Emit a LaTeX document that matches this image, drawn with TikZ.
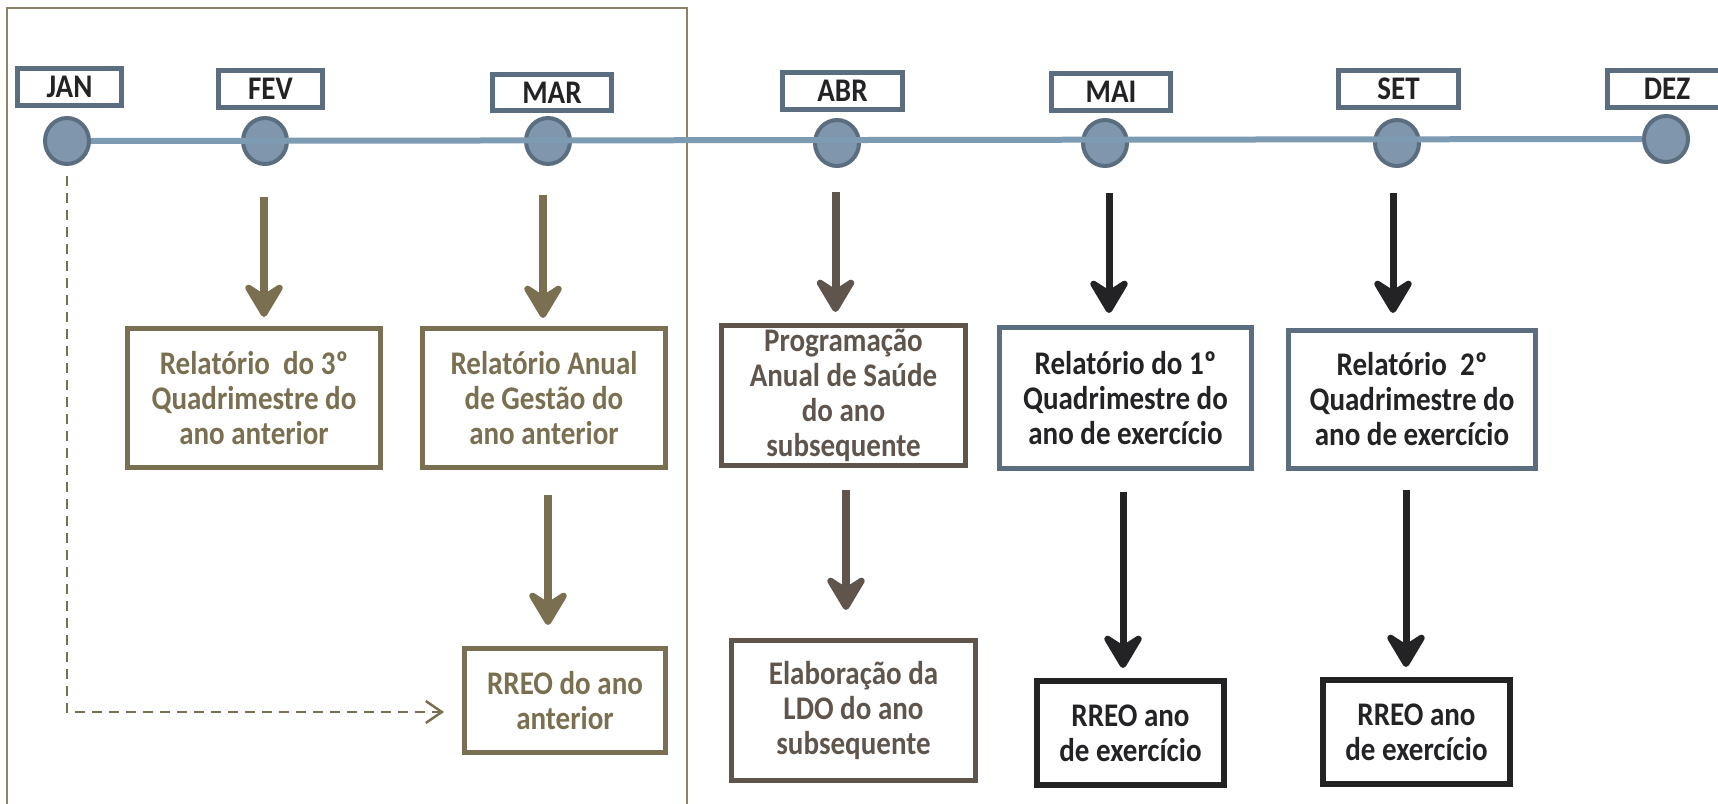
\documentclass[tikz,border=0pt]{standalone}
\usepackage{fontspec}
\setmainfont{Carlito}[FakeStretch=0.88]
\usetikzlibrary{arrows.meta,shapes.geometric}
\definecolor{olive}{HTML}{7A6F50}
\definecolor{taupe}{HTML}{5F554D}
\definecolor{steel}{HTML}{5A6E80}
\definecolor{dotfill}{HTML}{7F96AC}
\definecolor{tline}{HTML}{7D9BB2}
\definecolor{ink}{HTML}{232326}
\definecolor{framec}{HTML}{8C8464}
\tikzset{
  txt/.style={font=\bfseries\fontsize{16.5}{17.5}\selectfont, align=center, inner sep=0pt},
  month/.style={draw=steel, line width=2.2pt, fill=white, txt, text=ink, minimum height=18.5pt},
  dot/.style={ellipse, draw=steel, fill=dotfill, line width=2pt, minimum width=22pt, minimum height=23pt, inner sep=0pt},
  obox/.style={rectangle, draw=olive, line width=2.5pt, txt, text=olive},
  tbox/.style={rectangle, draw=taupe, line width=2.5pt, txt, text=taupe},
  sbox/.style={rectangle, draw=steel, line width=2.5pt, txt, text=ink},
  kbox/.style={rectangle, draw=ink, line width=3pt, txt, text=ink},
  headtip/.tip={Stealth[length=21pt,width=25pt,inset=8pt,round]},
  oarr/.style={draw=olive, line width=4pt, -headtip},
  tarr/.style={draw=taupe, line width=4pt, -headtip},
  karr/.style={draw=ink, line width=3.5pt, -headtip},
}
\begin{document}
\begin{tikzpicture}[x=0.5pt,y=-0.5pt]
\useasboundingbox (0,0) rectangle (1718,803);
% frame
\draw[framec, line width=0.8pt] (7,820) -- (7,8) -- (687,8) -- (687,820);
% month labels
\node[month, minimum width=52pt] (mjan) at (69.5,87) {JAN};
\node[month, minimum width=52pt] (mfev) at (270.5,89) {FEV};
\node[month, minimum width=59.5pt, minimum height=18pt] (mmar) at (552,92.5) {MAR};
\node[month, minimum width=60pt] (mabr) at (842.5,91) {ABR};
\node[month, minimum width=59.5pt] (mmai) at (1111,92) {MAI};
\node[month, minimum width=60pt] (mset) at (1398.5,89) {SET};
\node[month, minimum width=59.5pt] (mdez) at (1667,89) {DEZ};
% dots
\node[dot] (cjan) at (67,141) {};
\node[dot] (cfev) at (265,141) {};
\node[dot] (cmar) at (548,141) {};
\node[dot] (cabr) at (837,143) {};
\node[dot] (cmai) at (1105,143) {};
\node[dot] (cset) at (1397,143) {};
\node[dot] (cdez) at (1666,139) {};
\draw[tline, line width=3pt] (cjan.east) -- (cdez.west);
% boxes
\node[obox, minimum width=126.5pt, minimum height=69.5pt] (b1) at (254,398) {Relatório\ \ do 3º\\Quadrimestre do\\ano anterior};
\node[obox, minimum width=121.5pt, minimum height=69.5pt] (b2) at (544,398) {Relatório Anual\\de Gestão do\\ano anterior};
\node[tbox, minimum width=122pt, minimum height=70pt] (b3) at (843.5,395.5) {Programação\\Anual de Saúde\\do ano\\subsequente};
\node[sbox, minimum width=126pt, minimum height=70.5pt] (b4) at (1125.5,398) {Relatório do 1º\\Quadrimestre do\\ano de exercício};
\node[sbox, minimum width=123.5pt, minimum height=69pt] (b5) at (1412,399.5) {Relatório\ \ 2º\\Quadrimestre do\\ano de exercício};
\node[obox, minimum width=100.5pt, minimum height=52pt] (b6) at (565,700.5) {RREO do ano\\anterior};
\node[tbox, minimum width=122pt, minimum height=70pt] (b7) at (853.5,710.5) {Elaboração da\\LDO do ano\\subsequente};
\node[kbox, minimum width=93.5pt, minimum height=52pt] (b8) at (1130.5,733) {RREO ano\\de exercício};
\node[kbox, minimum width=93.5pt, minimum height=52pt] (b9) at (1416.5,732) {RREO ano\\de exercício};
% arrow end points
\coordinate (a1s) at (264,197); \coordinate (a1e) at (264,317);
\coordinate (a2s) at (543,195); \coordinate (a2e) at (543,318);
\coordinate (a3s) at (835.5,192); \coordinate (a3e) at (835.5,312);
\coordinate (a4s) at (1109,193); \coordinate (a4e) at (1109,313);
\coordinate (a5s) at (1393,193); \coordinate (a5e) at (1393,313);
\coordinate (a6s) at (548,495); \coordinate (a6e) at (548,625);
\coordinate (a7s) at (846,490); \coordinate (a7e) at (846,610);
\coordinate (a8s) at (1123,492); \coordinate (a8e) at (1123,668);
\coordinate (a9s) at (1406,490); \coordinate (a9e) at (1406,667);
\draw[oarr] (a1s) -- (a1e);
\draw[oarr] (a2s) -- (a2e);
\draw[tarr] (a3s) -- (a3e);
\draw[karr] (a4s) -- (a4e);
\draw[karr] (a5s) -- (a5e);
\draw[oarr] (a6s) -- (a6e);
\draw[tarr] (a7s) -- (a7e);
\draw[karr] (a8s) -- (a8e);
\draw[karr] (a9s) -- (a9e);
% dashed link
\coordinate (ds) at (67,176);
\coordinate (dc) at (67,712);
\coordinate (de) at (444,712);
\draw[olive, line width=1.25pt, dash pattern=on 5pt off 3.5pt, -{Straight Barb[length=8pt,width=11pt]}] (ds) -- (dc) -- (de);
\end{tikzpicture}
\end{document}
